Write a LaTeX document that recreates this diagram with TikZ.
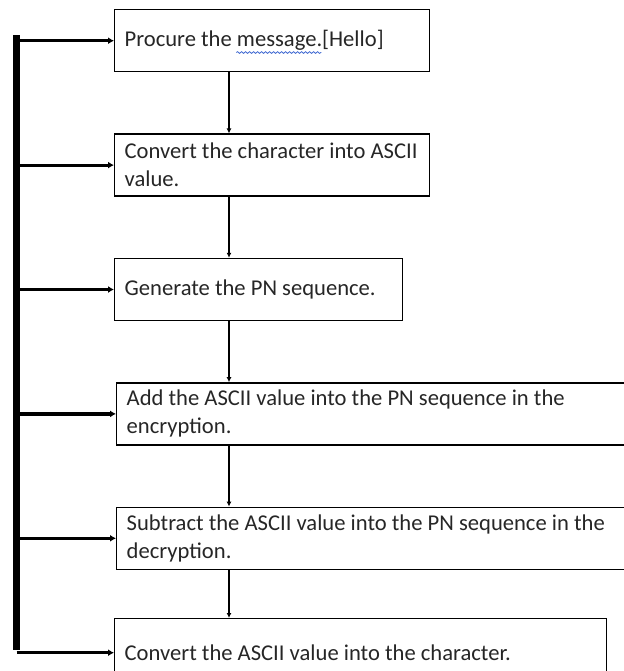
\documentclass[tikz,border=0pt]{standalone}
\usepackage{fontspec}
\setmainfont{Carlito}
\usetikzlibrary{positioning,arrows.meta,decorations.pathmorphing}
\definecolor{spellblue}{RGB}{70,110,210}
\newlength{\wavestart}
\newlength{\wavelen}

\begin{document}
\settowidth{\wavestart}{\fontsize{11.3}{14}\selectfont Procure the }
\settowidth{\wavelen}{\fontsize{11.3}{14}\selectfont message.}
\begin{tikzpicture}
\tikzstyle{stepbox}=[rectangle, draw=black, line width=0.7pt, anchor=north west, align=flush left, inner xsep=5pt, minimum height=31pt, font=\fontsize{11.3}{14}\selectfont, text=black!85]
\tikzstyle{flow}=[-{Latex[length=2.5pt,width=2.5pt]}, line width=1pt]
\tikzstyle{feed}=[-{Latex[length=3pt,width=3.5pt]}, line width=1.6pt]
\tikzstyle{spine}=[line width=3.5pt]
\tikzstyle{spellmark}=[draw=spellblue, line width=0.4pt, decorate, decoration={snake, segment length=2pt, amplitude=0.45pt}]
	\useasboundingbox (0,0) rectangle (311.5pt,-335.5pt);
	\node[stepbox, text width=147.5pt] (b1) at (57pt,-4.5pt) {Procure the message.[Hello]};
	\node[stepbox, text width=147.5pt] (b2) [below=30.5pt of b1.south west, anchor=north west] {Convert the character into ASCII value.};
	\node[stepbox, text width=134pt] (b3) [below=30.5pt of b2.south west, anchor=north west] {Generate the PN sequence.};
	\node[stepbox, text width=247pt] (b4) [below=30.5pt of b3.south west, anchor=north west, xshift=1pt] {Add the ASCII value into the PN sequence in the encryption.};
	\node[stepbox, text width=247pt] (b5) [below=30.5pt of b4.south west, anchor=north west] {Subtract the ASCII value into the PN sequence in the decryption.};
	\node[stepbox, text width=236pt, minimum height=34pt] (b6) [below=24pt of b5.south west, anchor=north west, xshift=-1pt] {Convert the ASCII value into the character.};
	% spelling mark under the word
	\coordinate (wavestart) at ([xshift=5pt+\wavestart, yshift=-2.8pt]b1.base west);
	\draw[spellmark] (wavestart) -- ++(\wavelen,0);
	\coordinate (axis) at (114.5pt,0);
	\path (axis |- b1.south) edge [flow] (axis |- b2.north);
	\path (axis |- b2.south) edge [flow] (axis |- b3.north);
	\path (axis |- b3.south) edge [flow] (axis |- b4.north);
	\path (axis |- b4.south) edge [flow] (axis |- b5.north);
	\path (axis |- b5.south) edge [flow] (axis |- b6.north);
	\coordinate (spinetop) at (8.25pt,-17.5pt);
	\coordinate (spinebot) at (8.25pt,-325pt);
	\draw[spine] (spinetop) -- (spinebot);
	\path (spinetop |- b1.west) edge [feed] (b1.west);
	\path (spinetop |- b2.west) edge [feed] (b2.west);
	\path (spinetop |- b3.west) edge [feed] (b3.west);
	\path (spinetop |- b4.west) edge [feed] (b4.west);
	\path (spinetop |- b5.west) edge [feed] (b5.west);
	\path (spinetop |- b6.west) edge [feed] (b6.west);
\end{tikzpicture}
\end{document}
